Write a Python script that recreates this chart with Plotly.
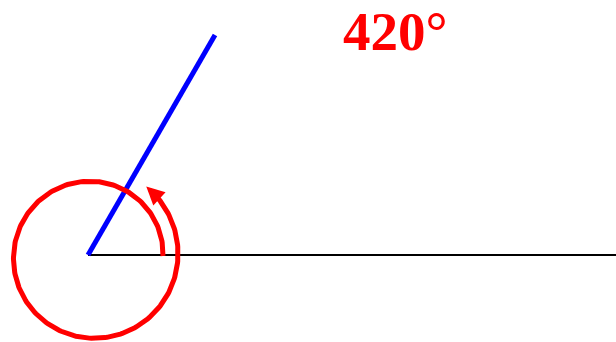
import numpy as np
import plotly.graph_objects as go

# diagram parameters (pixel units, y pointing up)
angle_deg = 420
origin = (88, 87)
initial_len = 528
terminal_len = 254
spiral_center = (92, 86)
spiral_r_start = 71
spiral_r_end = 88.5
spiral_stop_deg = 412
label = "420°"
label_pos = (395, 310.5)

W, H = 616, 342

fig = go.Figure()

# initial side
fig.add_trace(go.Scatter(x=[origin[0], origin[0] + initial_len], y=[origin[1], origin[1]],
                         mode="lines", line=dict(color="black", width=2), hoverinfo="skip"))

# terminal side
t = np.radians(angle_deg % 360)
fig.add_trace(go.Scatter(x=[origin[0], origin[0] + terminal_len * np.cos(t)],
                         y=[origin[1], origin[1] + terminal_len * np.sin(t)],
                         mode="lines", line=dict(color="#0000ff", width=5), hoverinfo="skip"))

# rotation spiral
def spiral_pt(deg):
    r = spiral_r_start + (spiral_r_end - spiral_r_start) * deg / angle_deg
    a = np.radians(deg)
    return spiral_center[0] + r * np.cos(a), spiral_center[1] + r * np.sin(a)

th = np.linspace(0, spiral_stop_deg - 5, 300)
sx, sy = spiral_pt(th)
fig.add_trace(go.Scatter(x=sx, y=sy, mode="lines", line=dict(color="#ff0000", width=5),
                         hoverinfo="skip"))

tip = spiral_pt(spiral_stop_deg)
tail = spiral_pt(spiral_stop_deg - 7)
fig.add_annotation(x=tip[0], y=tip[1], ax=tail[0], ay=tail[1], xref="x", yref="y",
                   axref="x", ayref="y", showarrow=True, arrowhead=2, arrowsize=0.9,
                   arrowwidth=4, arrowcolor="#ff0000", text="", standoff=0)

fig.add_annotation(x=label_pos[0], y=label_pos[1], text=f"<b>{label}</b>", showarrow=False,
                   font=dict(family="Liberation Serif", size=55, color="#ff0000"))

fig.update_layout(width=W, height=H, margin=dict(l=0, r=0, t=0, b=0),
                  plot_bgcolor="white", paper_bgcolor="white", showlegend=False)
fig.update_xaxes(range=[0, W], visible=False)
fig.update_yaxes(range=[0, H], visible=False)

# drop the default page margin so the figure fills the window
fig.write_html("out.html", config={"displayModeBar": False},
               post_script="document.body.style.margin='0';document.body.style.overflow='hidden';")
